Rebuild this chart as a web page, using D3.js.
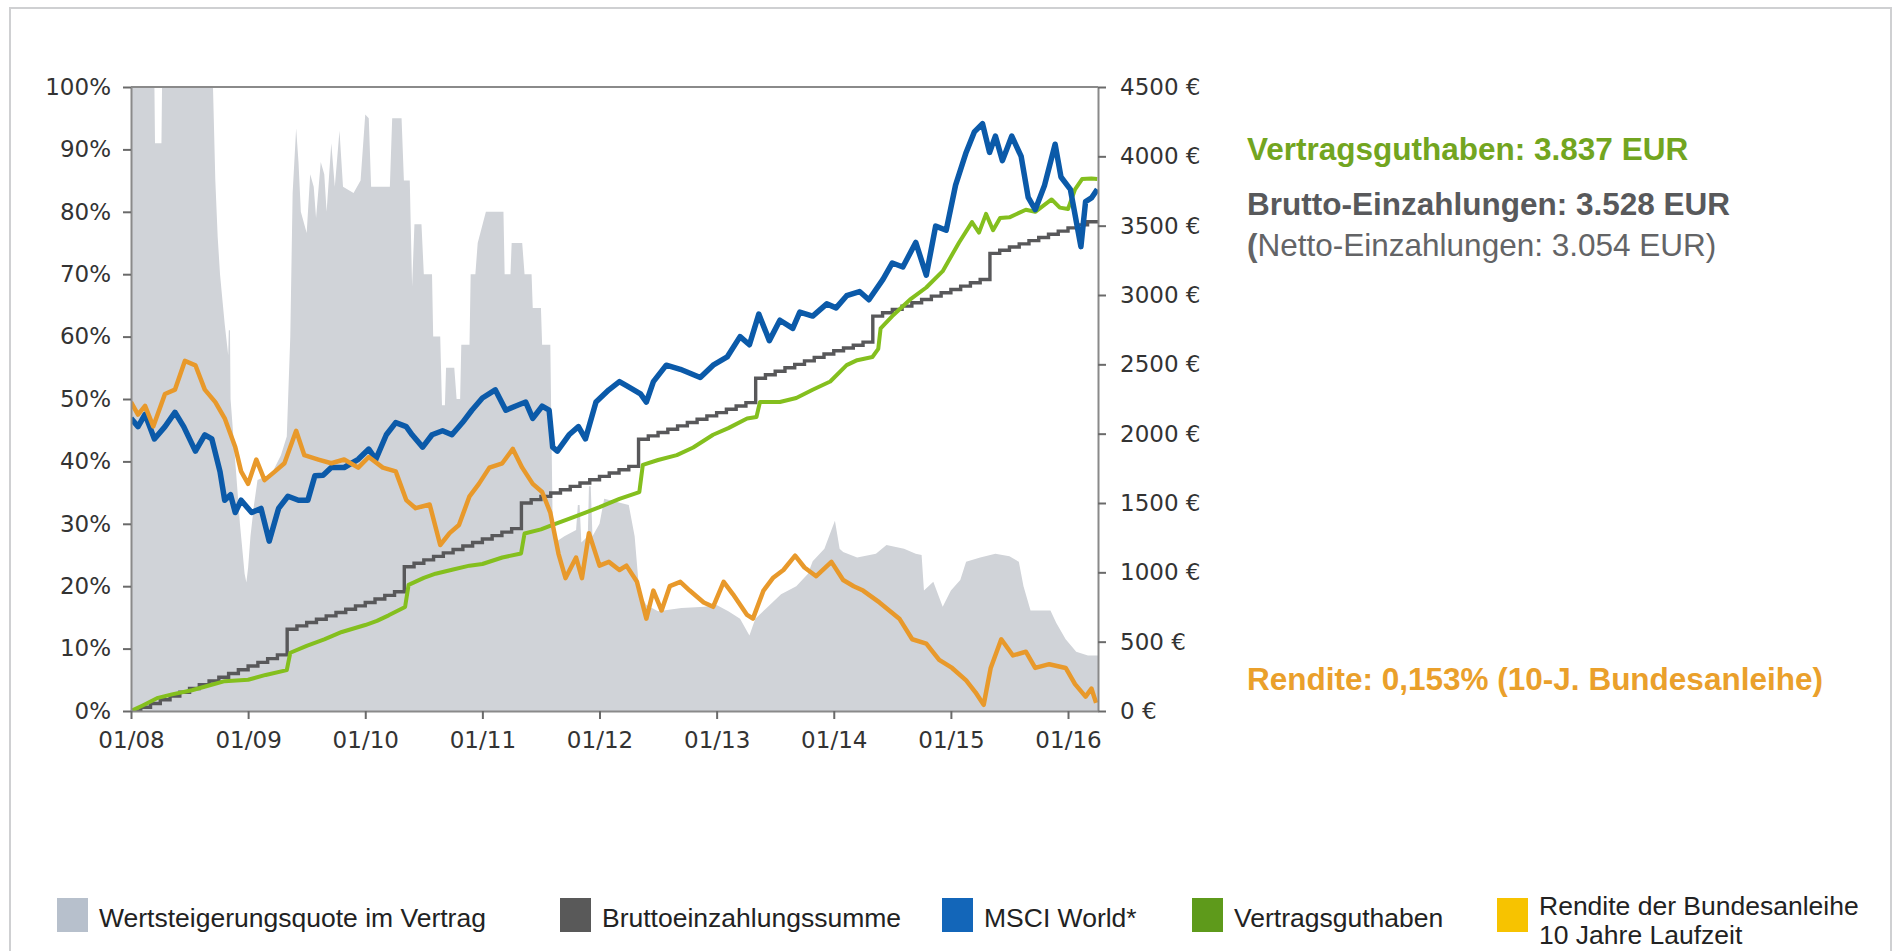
<!DOCTYPE html>
<html>
<head>
<meta charset="utf-8">
<script src="https://cdn.jsdelivr.net/npm/d3@7"></script>
<style>
  body { margin: 0; background: #fff; }
  svg { display: block; }
</style>
</head>
<body>
<div id="chart"></div>
<script>
// values: [years after 01/2008, value]
var START = 2008;
var END = 2016.256;

var yearTicks = [2008, 2009, 2010, 2011, 2012, 2013, 2014, 2015, 2016];
var pctTicks = [0, 10, 20, 30, 40, 50, 60, 70, 80, 90, 100];
var eurTicks = [0, 500, 1000, 1500, 2000, 2500, 3000, 3500, 4000, 4500];

// Wertsteigerungsquote im Vertrag (left axis, %)
var quote = [
  [0, 100], [0.2, 100], [0.205, 91], [0.26, 91], [0.265, 100], [0.70, 100], [0.72, 85], [0.74, 76],
  [0.76, 70], [0.78, 66], [0.80, 62], [0.83, 57], [0.835, 61], [0.845, 61], [0.85, 50], [0.87, 45],
  [0.89, 40], [0.91, 35], [0.93, 30], [0.95, 26], [0.97, 22], [0.985, 20.6], [1.0, 23], [1.02, 28],
  [1.05, 33], [1.08, 37], [1.2, 38], [1.28, 41], [1.33, 44], [1.36, 60], [1.38, 83], [1.41, 93.4],
  [1.43, 88], [1.45, 80], [1.5, 76.6], [1.53, 86], [1.56, 84], [1.58, 79], [1.62, 88], [1.65, 86],
  [1.67, 80], [1.71, 91], [1.74, 84], [1.78, 93], [1.81, 84], [1.9, 83], [1.96, 85], [2.0, 95.6],
  [2.03, 95], [2.05, 84], [2.21, 84], [2.23, 95], [2.31, 95], [2.33, 85], [2.38, 85], [2.4, 68],
  [2.42, 78], [2.48, 78], [2.5, 70], [2.57, 70], [2.58, 60], [2.64, 60], [2.655, 49], [2.68, 49],
  [2.69, 55], [2.76, 55], [2.78, 50], [2.81, 50], [2.82, 58.7], [2.89, 58.7], [2.9, 70], [2.94, 70],
  [2.96, 75], [3.03, 80], [3.18, 80], [3.19, 70], [3.24, 70], [3.25, 75], [3.34, 75], [3.36, 70],
  [3.42, 70], [3.43, 64.6], [3.5, 64.6], [3.51, 58.7], [3.58, 58.7], [3.6, 30], [3.62, 27], [3.7, 28],
  [3.8, 29], [3.815, 33], [3.83, 33], [3.845, 27], [3.9, 28], [3.91, 36], [3.925, 36], [3.94, 28],
  [4.0, 30], [4.04, 34], [4.25, 33], [4.3, 28], [4.34, 19], [4.4, 17], [4.5, 16], [4.7, 16.5],
  [4.9, 16.7], [5.0, 17], [5.1, 16], [5.2, 14.8], [5.28, 12.1], [5.33, 14.8], [5.42, 16.4], [5.55, 18.7],
  [5.68, 20], [5.78, 22], [5.82, 24], [5.92, 26], [5.98, 29], [6.01, 30.5], [6.05, 26], [6.08, 25.5],
  [6.2, 24.6], [6.36, 25.2], [6.45, 26.6], [6.6, 26], [6.7, 25.2], [6.75, 25], [6.77, 19.3], [6.85, 20.7],
  [6.93, 16.7], [7.0, 19.3], [7.08, 21], [7.13, 23.9], [7.25, 24.6], [7.38, 25.2], [7.5, 24.8], [7.58, 23.9],
  [7.62, 20], [7.68, 16.1], [7.85, 16.1], [7.9, 14.1], [7.98, 11.5], [8.07, 9.5], [8.17, 8.9], [8.256, 8.9]
];

// Bruttoeinzahlungssumme (right axis, EUR), one value per month 01/2008 .. 03/2016
var brutto = [
  0, 27, 54, 81, 108, 135, 162, 189, 216, 243, 270, 297,
  324, 351, 378, 405, 590, 614, 638, 662, 686, 710, 734, 758,
  782, 808, 834, 860, 1040, 1065, 1090, 1115, 1140, 1165, 1190, 1215,
  1240, 1265, 1290, 1315, 1500, 1524, 1548, 1572, 1596, 1620, 1644, 1668,
  1692, 1716, 1740, 1764, 1960, 1984, 2008, 2032, 2056, 2080, 2104, 2128,
  2152, 2176, 2200, 2224, 2400, 2425, 2450, 2475, 2500, 2525, 2550, 2575,
  2598, 2618, 2638, 2660, 2848, 2872, 2896, 2920, 2944, 2968, 2992, 3016,
  3040, 3064, 3088, 3112, 3300, 3323, 3346, 3369, 3392, 3415, 3438, 3461,
  3484, 3506, 3528
];

// MSCI World* (right axis, EUR)
var msci = [
  [0, 2110], [0.06, 2051], [0.12, 2139], [0.2, 1962], [0.29, 2051], [0.375, 2154], [0.45, 2051], [0.55, 1874],
  [0.63, 1992], [0.69, 1962], [0.76, 1726], [0.8, 1520], [0.85, 1560], [0.89, 1431], [0.94, 1520], [1.03, 1431],
  [1.11, 1461], [1.18, 1225], [1.26, 1461], [1.34, 1549], [1.43, 1520], [1.51, 1520], [1.57, 1697], [1.64, 1700],
  [1.71, 1756], [1.82, 1756], [1.94, 1815], [2.03, 1889], [2.09, 1815], [2.18, 1992], [2.26, 2080], [2.35, 2051],
  [2.4, 1992], [2.49, 1903], [2.57, 1992], [2.66, 2021], [2.74, 1992], [2.83, 2080], [2.91, 2169], [3.0, 2257],
  [3.11, 2316], [3.2, 2169], [3.28, 2198], [3.37, 2228], [3.43, 2110], [3.51, 2198], [3.57, 2169], [3.6, 1903],
  [3.64, 1874], [3.74, 1992], [3.82, 2051], [3.88, 1962], [3.97, 2228], [4.08, 2316], [4.17, 2375], [4.23, 2346],
  [4.35, 2287], [4.4, 2228], [4.46, 2375], [4.57, 2494], [4.69, 2464], [4.86, 2405], [4.97, 2494], [5.09, 2553],
  [5.2, 2700], [5.28, 2641], [5.36, 2862], [5.45, 2671], [5.54, 2818], [5.65, 2759], [5.71, 2877], [5.82, 2848],
  [5.94, 2936], [6.02, 2907], [6.11, 2995], [6.22, 3025], [6.3, 2966], [6.42, 3113], [6.5, 3231], [6.59, 3202],
  [6.7, 3379], [6.79, 3143], [6.87, 3497], [6.96, 3467], [7.04, 3792], [7.13, 4028], [7.2, 4176], [7.27, 4235],
  [7.33, 4028], [7.38, 4146], [7.44, 3969], [7.52, 4146], [7.6, 3999], [7.66, 3704], [7.72, 3615], [7.8, 3792],
  [7.89, 4087], [7.94, 3851], [8.02, 3762], [8.11, 3349], [8.15, 3674], [8.2, 3700], [8.25, 3762]
];

// Vertragsguthaben (right axis, EUR)
var guthaben = [
  [0, 0], [0.1, 40], [0.23, 95], [0.35, 120], [0.52, 150], [0.65, 180], [0.8, 215], [1.0, 225],
  [1.15, 260], [1.33, 295], [1.36, 420], [1.5, 470], [1.65, 516], [1.8, 570], [2.0, 620], [2.1, 650],
  [2.2, 690], [2.34, 750], [2.37, 910], [2.5, 960], [2.6, 990], [2.75, 1020], [2.89, 1048], [3.0, 1060],
  [3.17, 1107], [3.33, 1136], [3.36, 1280], [3.5, 1310], [3.6, 1343], [3.75, 1390], [3.88, 1431], [4.0, 1470],
  [4.17, 1530], [4.34, 1579], [4.37, 1775], [4.5, 1810], [4.66, 1845], [4.8, 1900], [4.97, 1992], [5.1, 2040],
  [5.26, 2110], [5.34, 2120], [5.37, 2228], [5.54, 2228], [5.68, 2257], [5.82, 2317], [5.97, 2376], [6.11, 2494],
  [6.2, 2530], [6.33, 2553], [6.38, 2612], [6.4, 2760], [6.5, 2848], [6.65, 2966], [6.79, 3054], [6.93, 3172],
  [7.07, 3379], [7.18, 3526], [7.24, 3450], [7.3, 3585], [7.36, 3467], [7.42, 3556], [7.5, 3560], [7.64, 3615],
  [7.72, 3600], [7.86, 3689], [7.93, 3630], [8.0, 3620], [8.06, 3762], [8.12, 3836], [8.2, 3840], [8.25, 3837]
];

// Rendite der Bundesanleihe (drawn against the left axis, %)
var rendite = [
  [0, 49.5], [0.06, 47.5], [0.12, 48.9], [0.19, 45.6], [0.29, 50.8], [0.375, 51.5], [0.46, 56.1], [0.55, 55.4],
  [0.63, 51.5], [0.72, 49.5], [0.8, 46.9], [0.89, 42.3], [0.94, 38.4], [1.0, 36.4], [1.07, 40.3], [1.14, 37.0],
  [1.23, 38.4], [1.31, 39.7], [1.41, 44.9], [1.48, 41.0], [1.6, 40.3], [1.71, 39.7], [1.82, 40.3], [1.94, 39.0],
  [2.03, 40.7], [2.15, 39.0], [2.26, 38.4], [2.35, 33.8], [2.43, 32.5], [2.55, 33.1], [2.64, 26.6], [2.72, 28.5],
  [2.8, 29.8], [2.89, 34.4], [2.97, 36.4], [3.06, 39.0], [3.17, 39.7], [3.26, 42.0], [3.34, 39.0], [3.43, 36.4],
  [3.51, 35.1], [3.58, 31.8], [3.65, 25.2], [3.71, 21.3], [3.8, 24.6], [3.85, 21.3], [3.91, 28.5], [4.0, 23.3],
  [4.08, 23.9], [4.17, 22.6], [4.23, 23.3], [4.32, 20.7], [4.4, 14.8], [4.46, 19.3], [4.53, 16.1], [4.6, 20.0],
  [4.69, 20.7], [4.77, 19.3], [4.89, 17.4], [4.97, 16.7], [5.06, 20.7], [5.14, 18.7], [5.26, 15.4], [5.31, 14.8],
  [5.4, 19.3], [5.48, 21.3], [5.57, 22.6], [5.67, 24.9], [5.75, 23.0], [5.85, 21.6], [5.98, 23.9], [6.08, 21.0],
  [6.17, 20.0], [6.25, 19.3], [6.39, 17.4], [6.56, 14.8], [6.67, 11.5], [6.79, 10.8], [6.9, 8.2], [7.01, 6.9],
  [7.13, 4.9], [7.21, 3.0], [7.28, 1.0], [7.34, 6.9], [7.43, 11.5], [7.53, 8.9], [7.64, 9.5], [7.72, 6.9],
  [7.84, 7.5], [7.98, 6.9], [8.06, 4.3], [8.15, 2.3], [8.2, 3.6], [8.24, 1.3]
];

var legendLabels = [
  ["Wertsteigerungsquote im Vertrag"],
  ["Bruttoeinzahlungssumme"],
  ["MSCI World*"],
  ["Vertragsguthaben"],
  ["Rendite der Bundesanleihe", "10 Jahre Laufzeit"]
];

var notes = {
  guthaben: "Vertragsguthaben: 3.837 EUR",
  brutto: "Brutto-Einzahlungen: 3.528 EUR",
  netto: "Netto-Einzahlungen: 3.054 EUR)",
  rendite: "Rendite: 0,153% (10-J. Bundesanleihe)"
};

// ---- layout ----
var svgWidth = 1898;
var svgHeight = 951;
var plot = { left: 131, right: 1098, top: 87, bottom: 711 };

var svg = d3.select("#chart")
  .append("svg")
  .attr("width", svgWidth)
  .attr("height", svgHeight);

// outer frame
svg.append("rect")
  .attr("x", 10).attr("y", 8)
  .attr("width", 1881).attr("height", 980)
  .attr("fill", "none")
  .attr("stroke", "#cfd0d2")
  .attr("stroke-width", 2);

var x = d3.scaleLinear().domain([START, END]).range([plot.left, plot.right]);
var yPct = d3.scaleLinear().domain([0, 100]).range([plot.bottom, plot.top]);
var yEur = d3.scaleLinear().domain([0, 4500]).range([plot.bottom, plot.top]);

svg.append("clipPath").attr("id", "clip")
  .append("rect")
  .attr("x", plot.left).attr("y", plot.top)
  .attr("width", plot.right - plot.left).attr("height", plot.bottom - plot.top);

var chartGroup = svg.append("g").attr("clip-path", "url(#clip)");

// grey area
var area = d3.area()
  .x(d => x(START + d[0]))
  .y0(yPct(0))
  .y1(d => yPct(d[1]));

chartGroup.append("path")
  .datum(quote)
  .attr("d", area)
  .attr("fill", "#d0d3d8");

// Brutto step line
var bruttoPts = brutto.map((v, i) => [i / 12, v]);
bruttoPts.push([END - START, brutto[brutto.length - 1]]);

chartGroup.append("path")
  .datum(bruttoPts)
  .attr("d", d3.line().x(d => x(START + d[0])).y(d => yEur(d[1])).curve(d3.curveStepAfter))
  .attr("fill", "none")
  .attr("stroke", "#58585a")
  .attr("stroke-width", 3.4);

chartGroup.append("path")
  .datum(guthaben)
  .attr("d", d3.line().x(d => x(START + d[0])).y(d => yEur(d[1])))
  .attr("fill", "none")
  .attr("stroke", "#84bf1e")
  .attr("stroke-width", 4)
  .attr("stroke-linejoin", "round");

chartGroup.append("path")
  .datum(msci)
  .attr("d", d3.line().x(d => x(START + d[0])).y(d => yEur(d[1])))
  .attr("fill", "none")
  .attr("stroke", "#0b5aa9")
  .attr("stroke-width", 5.5)
  .attr("stroke-linejoin", "round");

chartGroup.append("path")
  .datum(rendite)
  .attr("d", d3.line().x(d => x(START + d[0])).y(d => yPct(d[1])))
  .attr("fill", "none")
  .attr("stroke", "#e8992b")
  .attr("stroke-width", 4.5)
  .attr("stroke-linejoin", "round");

// top border of the plot
svg.append("line")
  .attr("x1", plot.left).attr("x2", plot.right)
  .attr("y1", plot.top).attr("y2", plot.top)
  .attr("stroke", "#8a8a8a")
  .attr("stroke-width", 2);

// axes
var tickFont = "'DejaVu Sans', Verdana, sans-serif";

var leftAxis = d3.axisLeft(yPct)
  .tickValues(pctTicks)
  .tickFormat(d => d + "%")
  .tickSize(8)
  .tickSizeOuter(0)
  .tickPadding(12);

var rightAxis = d3.axisRight(yEur)
  .tickValues(eurTicks)
  .tickFormat(d => d + " €")
  .tickSize(8)
  .tickSizeOuter(0)
  .tickPadding(14);

var bottomAxis = d3.axisBottom(x)
  .tickValues(yearTicks)
  .tickFormat(d => "01/" + String(d).slice(2))
  .tickSize(8)
  .tickSizeOuter(0)
  .tickPadding(13);

var gl = svg.append("g").attr("transform", `translate(${plot.left},0)`).call(leftAxis);
var gr = svg.append("g").attr("transform", `translate(${plot.right},0)`).call(rightAxis);
var gb = svg.append("g").attr("transform", `translate(0,${plot.bottom})`).call(bottomAxis);

[gl, gr, gb].forEach(function(g) {
  g.select(".domain").attr("stroke", "#8a8a8a").attr("stroke-width", 2);
  g.selectAll(".tick line").attr("stroke", "#6a6a6a").attr("stroke-width", 2);
  g.selectAll(".tick text")
    .attr("fill", "#333")
    .style("font-family", tickFont)
    .style("font-size", "23px");
});

// annotations on the right
var noteFont = "'Liberation Sans', Arial, sans-serif";

svg.append("text")
  .attr("x", 1247).attr("y", 160)
  .style("font-family", noteFont).style("font-size", "31.5px").style("font-weight", "bold")
  .attr("fill", "#72a520")
  .text(notes.guthaben);

svg.append("text")
  .attr("x", 1247).attr("y", 215)
  .style("font-family", noteFont).style("font-size", "31.5px").style("font-weight", "bold")
  .attr("fill", "#58595b")
  .text(notes.brutto);

var netto = svg.append("text")
  .attr("x", 1247).attr("y", 256)
  .style("font-family", noteFont).style("font-size", "31.5px")
  .attr("fill", "#636466");
netto.append("tspan").style("font-weight", "bold").text("(");
netto.append("tspan").text(notes.netto);

svg.append("text")
  .attr("x", 1247).attr("y", 690)
  .style("font-family", noteFont).style("font-size", "31.5px").style("font-weight", "bold")
  .attr("fill", "#eaa02b")
  .text(notes.rendite);

// legend
var legendX = [57, 560, 942, 1192, 1497];
var legendColors = ["#b7c0cc", "#595959", "#1366b9", "#5e9a1b", "#f7c300"];

legendLabels.forEach(function(lines, i) {
  var g = svg.append("g").attr("transform", `translate(${legendX[i]},898)`);
  g.append("rect")
    .attr("width", 31).attr("height", 34)
    .attr("fill", legendColors[i]);
  var t = g.append("text")
    .attr("x", 42)
    .style("font-family", noteFont)
    .style("font-size", "26.5px")
    .attr("fill", "#222");
  if (lines.length === 1) {
    t.attr("y", 29).text(lines[0]);
  } else {
    t.selectAll("tspan").data(lines).enter()
      .append("tspan")
      .attr("x", 42)
      .attr("y", (d, j) => 17 + j * 29)
      .text(d => d);
  }
});
</script>
</body>
</html>
